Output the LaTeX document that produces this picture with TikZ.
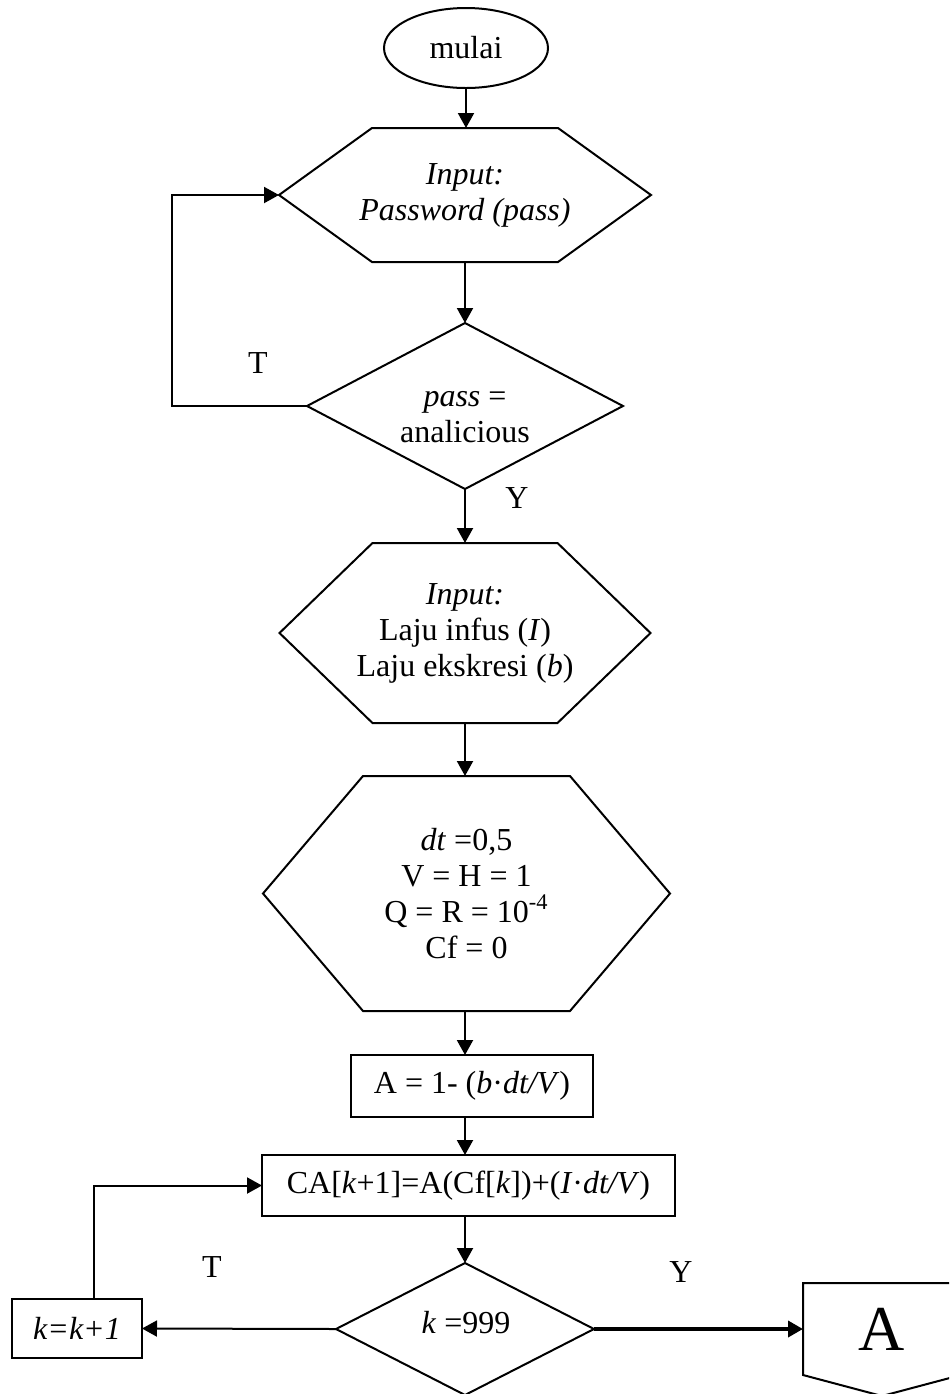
\documentclass[tikz,border=0pt]{standalone}
\usepackage{fontspec}
\setmainfont{Liberation Serif}
\usetikzlibrary{arrows.meta,shapes.geometric,calc}
% hexagon drawn around an invisible frame node; #2 = horizontal inset of the top/bottom edges
\newcommand\hexpath[2]{%
  \draw[outline] (#1.west) -- ($(#1.north west)+(#2,0)$) -- ($(#1.north east)+(-#2,0)$)
    -- (#1.east) -- ($(#1.south east)+(-#2,0)$) -- ($(#1.south west)+(#2,0)$) -- cycle;}
\begin{document}
\begin{tikzpicture}[x=0.5pt,y=-0.5pt,
  font=\fontsize{16}{18}\selectfont,
  every node/.style={inner sep=0pt, outer sep=0pt},
  outline/.style={draw, line width=1pt, line join=miter},
  hexframe/.style={rectangle, align=center},
  boxnode/.style={rectangle, draw, line width=1pt, align=center},
  cond/.style={diamond, draw, line width=1pt},
  condtext/.style={align=center},
  arr/.style={line width=1pt, -{Triangle[length=7.5pt,width=8pt]}},
  thickarr/.style={line width=1.8pt, -{Triangle[length=7.5pt,width=8pt]}},
  bigletter/.style={font=\fontsize{32}{36}\selectfont}]

\useasboundingbox (0,0) rectangle (949,1394);
\fill[white] (0,0) rectangle (949,1394);
\clip (0,0) rectangle (949,1394);

% start
\node[ellipse, draw, line width=1pt, minimum width=82pt, minimum height=40pt] (start) at (466,48) {mulai};

% password input
\node[hexframe, minimum width=186pt, minimum height=67pt] (pw) at (465,195)
  {\textit{Input:}\\\textit{Password (pass)}};
\hexpath{pw}{93}

% password check
\node[cond, minimum width=158pt, minimum height=83pt] (chk) at (465,406) {};
\node[condtext] (chktext) at (465,417) {\textit{pass} =\\analicious};

% rate input
\node[hexframe, minimum width=185.5pt, minimum height=90pt] (inp) at (465,633)
  {\textit{Input:}\\Laju infus (\textit{I})\\Laju ekskresi (\textit{b})};
\hexpath{inp}{93}

% parameters
\node[hexframe, minimum width=203.5pt, minimum height=117.5pt] (par) at (466.5,893.5)
  {\textit{dt} =0,5\\V = H = 1\\Q = R = 10\textsuperscript{-4}\\Cf = 0};
\hexpath{par}{100}

% coefficient A
\node[boxnode, minimum width=121pt, minimum height=31pt] (coefA) at (472,1086)
  {A = 1- (\textit{b}·\textit{dt/V})};

% update step
\node[boxnode, minimum width=206.5pt, minimum height=30.5pt] (upd) at (468.5,1185.5)
  {CA[\textit{k}+1]=A(Cf[\textit{k}])+(\textit{I}·\textit{dt/V})};

% loop end check
\node[cond, minimum width=129pt, minimum height=66pt] (last) at (465,1329) {};
\node[condtext] (lasttext) at (466,1323) {\textit{k} =999};

% counter increment
\node[boxnode, minimum width=65pt, minimum height=29.5pt] (inc) at (77,1328.5)
  {\textit{k=k+1}};

% off-page connector
\node[bigletter, minimum width=79pt, minimum height=46pt] (offA) at (882,1329) {A};
\draw[outline] (offA.north west) -- (offA.north east) -- (offA.south east)
  -- ($(offA.south)+(0,21)$) -- (offA.south west) -- cycle;

% main flow
\draw[arr] (start.south) -- (start.south |- pw.north);
\draw[arr] (pw.south) -- (chk.north);
\draw[arr] (chk.south) -- (inp.north);
\draw[arr] (inp.south) -- (inp.south |- par.north);
\draw[arr] (inp.south |- par.south) -- (inp.south |- coefA.north);
\draw[arr] (inp.south |- coefA.south) -- (inp.south |- upd.north);
\draw[arr] (last.north |- upd.south) -- (last.north);

% loops
\draw[arr] (chk.west) -- ++(-135,0) |- (pw.west);
\draw[arr] ($(inc.north)+(17,0)$) |- (upd.west);
\draw[arr] (last.west) -- (inc.east);
\draw[thickarr] (last.east) -- (offA.west);

% branch labels
\node (tlab1) at (258,363) {T};
\node (ylab1) at (517,498) {Y};
\node (tlab2) at (212,1267) {T};
\node (ylab2) at (681,1272) {Y};

\end{tikzpicture}
\end{document}
